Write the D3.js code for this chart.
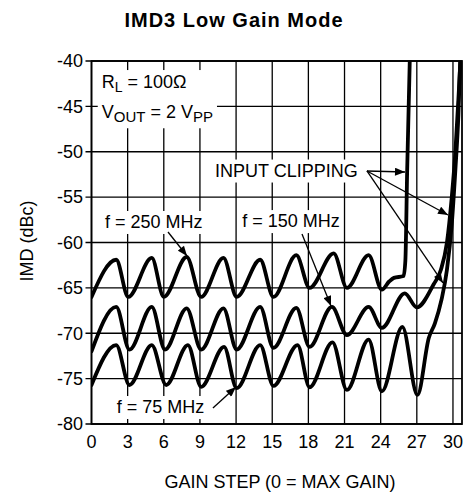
<!DOCTYPE html>
<html><head><meta charset="utf-8">
<script src="https://cdn.jsdelivr.net/npm/d3@7"></script>
<style>
html,body{margin:0;padding:0;background:#fff;}
svg{display:block;font-family:"Liberation Sans",Arial,Helvetica,sans-serif;}
</style></head>
<body>
<svg id="c" width="465" height="495"></svg>
<script>
const title = "IMD3 Low Gain Mode";
const xLabel = "GAIN STEP (0 = MAX GAIN)";
const yLabel = "IMD (dBc)";
const xTicks = [0,3,6,9,12,15,18,21,24,27,30];
const yTicks = [-80,-75,-70,-65,-60,-55,-50,-45,-40];

const f250x = [0,2.05,3.05,5.0,6.0,7.9,9.1,10.95,12.05,14.0,15.1,17.0,18.1,20.1,21.2,23.0,24.1,24.7,25.1,25.9,26.05,26.2,26.45];
const f250y = [-66,-61.9,-66,-61.7,-66,-61.6,-66,-61.7,-66,-61.9,-66,-61.4,-65,-61.2,-65,-61.4,-65.2,-64.3,-63.9,-63.7,-62,-52,-38];

const f150x = [0,2.05,3.15,5.0,6.1,7.9,9.1,10.95,12.05,14.0,15.1,17.0,18.1,19.95,21.2,23.0,24.1,26.0,27.0,28.4,29.0,29.5,29.9,30.2,30.5,30.7];
const f150y = [-72,-67.1,-71.8,-67.1,-71.8,-67.25,-71.8,-67.25,-71.8,-67.1,-71.6,-67.2,-71.5,-67.1,-70.2,-67.1,-69.4,-65.6,-67.15,-64.6,-63.0,-60,-55,-50,-43,-38];

const f75x = [0,2.05,3.15,5.0,6.2,8.0,9.1,11.0,12.05,14.0,15.1,17.1,18.1,20.0,21.2,23.0,24.1,25.8,27.05,28.0,28.5,29.05,29.5,29.9,30.2,30.45,30.65];
const f75y = [-75.7,-71.3,-75.7,-71.3,-75.7,-71.3,-75.9,-71.5,-76.05,-71.3,-75.8,-71.3,-75.95,-71.0,-76.25,-70.7,-76.4,-69.3,-76.8,-70.5,-68.9,-66.3,-63,-58,-52,-46,-38];

const seriesNames = ["f = 250 MHz","f = 150 MHz","f = 75 MHz"];

const svg = d3.select("#c");
const W = 465, H = 495;
const x = d3.scaleLinear().domain([0,30.75]).range([91.5,462]);
const y = d3.scaleLinear().domain([-80,-40]).range([424,61]);
const font = "\"Liberation Sans\",Arial,Helvetica,sans-serif";

// title
svg.append("text").attr("x",234).attr("y",27).attr("text-anchor","middle")
  .attr("font-size",20).attr("font-weight","bold").attr("letter-spacing","1px").text(title);

// grid
const g = svg.append("g");
g.selectAll(".vg").data(xTicks).join("line")
  .attr("x1",d=>x(d)).attr("x2",d=>x(d)).attr("y1",y(-80)).attr("y2",y(-40))
  .attr("stroke","#000").attr("stroke-width",1.3);
g.selectAll(".hg").data(yTicks).join("line")
  .attr("x1",x(0)-6).attr("x2",x(30.75)).attr("y1",d=>y(d)).attr("y2",d=>y(d))
  .attr("stroke","#000").attr("stroke-width",1.3);
g.append("rect").attr("x",x(0)).attr("y",y(-40)).attr("width",x(30.75)-x(0)).attr("height",y(-80)-y(-40))
  .attr("fill","none").attr("stroke","#000").attr("stroke-width",1.8);

// tick labels
svg.append("g").selectAll("text").data(yTicks).join("text")
  .attr("x",83).attr("y",d=>y(d)).attr("dy","0.35em").attr("text-anchor","end")
  .attr("font-size",18).text(d=>d);
svg.append("g").selectAll("text").data(xTicks).join("text")
  .attr("x",d=>x(d)).attr("y",448).attr("text-anchor","middle")
  .attr("font-size",18).text(d=>d);

svg.append("text").attr("x",280).attr("y",488).attr("text-anchor","middle").attr("font-size",18).text(xLabel);
svg.append("text").attr("transform","translate(33,241) rotate(-90)").attr("text-anchor","middle").attr("font-size",18).text(yLabel);

// annotations with white backgrounds
const ann = svg.append("g");
function boxText(parent, nodes, pad){
  let x0=1e9,y0=1e9,x1=-1e9,y1=-1e9;
  nodes.forEach(n=>{const b=n.getBBox(); x0=Math.min(x0,b.x); y0=Math.min(y0,b.y); x1=Math.max(x1,b.x+b.width); y1=Math.max(y1,b.y+b.height);});
  parent.insert("rect",":first-child").attr("x",x0-pad).attr("y",y0-pad+2).attr("width",x1-x0+2*pad).attr("height",y1-y0+2*pad-3).attr("fill","#fff");
}
const box1 = ann.append("g");
const t1 = box1.append("text").attr("x",x(0.85)).attr("y",y(-42.98)).attr("font-size",18);
t1.append("tspan").text("R");
t1.append("tspan").attr("font-size",14).attr("dy",4).text("L");
t1.append("tspan").attr("dy",-4).text(" = 100\u03A9");
const t2 = box1.append("text").attr("x",x(0.85)).attr("y",y(-46.31)).attr("font-size",18);
t2.append("tspan").text("V");
t2.append("tspan").attr("font-size",15).attr("dy",4).text("OUT");
t2.append("tspan").attr("dy",-4).text(" = 2 V");
t2.append("tspan").attr("font-size",15).attr("dy",4).text("PP");
boxText(box1,[t1.node(),t2.node()],4);

const labels = [
  {t:"INPUT CLIPPING", u:10.25, v:-52.73},
  {t:seriesNames[0], u:1.12, v:-58.4},
  {t:seriesNames[1], u:12.51, v:-58.3},
  {t:seriesNames[2], u:2.09, v:-78.79}
];
labels.forEach(l=>{
  const gg = ann.append("g");
  const t = gg.append("text").attr("x",x(l.u)).attr("y",y(l.v)).attr("font-size",18).text(l.t);
  boxText(gg,[t.node()],3);
});

// curves
svg.append("clipPath").attr("id","clip").append("rect")
  .attr("x",x(0)).attr("y",y(-40)).attr("width",x(30.75)-x(0)).attr("height",y(-80)-y(-40));
const line = d3.line().x(d=>x(d[0])).y(d=>y(d[1])).curve(d3.curveMonotoneX);
const series = [d3.zip(f250x,f250y), d3.zip(f150x,f150y), d3.zip(f75x,f75y)];
svg.append("g").attr("clip-path","url(#clip)").selectAll("path").data(series).join("path")
  .attr("d",line).attr("fill","none").attr("stroke","#000").attr("stroke-width",3.8)
  .attr("stroke-linejoin","round").attr("stroke-linecap","round");

// arrows
const defs = svg.append("defs");
defs.append("marker").attr("id","ah").attr("viewBox","0 0 10 8").attr("refX",10).attr("refY",4)
  .attr("markerWidth",11).attr("markerHeight",8).attr("markerUnits","userSpaceOnUse").attr("orient","auto")
  .append("path").attr("d","M0,0L10,4L0,8Z").attr("fill","#000");
const arrows = [
  [[6.35,-58.84],[7.93,-61.49]],
  [[17.47,-59.06],[19.88,-67.0]],
  [[10.08,-78.24],[11.99,-75.92]],
  [[22.86,-52.12],[26.02,-52.23]],
  [[22.86,-52.12],[29.59,-56.97]],
  [[22.86,-52.12],[29.17,-64.46]]
];
svg.append("g").selectAll("line").data(arrows).join("line")
  .attr("x1",d=>x(d[0][0])).attr("y1",d=>y(d[0][1])).attr("x2",d=>x(d[1][0])).attr("y2",d=>y(d[1][1]))
  .attr("stroke","#000").attr("stroke-width",1.3).attr("marker-end","url(#ah)");
</script>
</body></html>
